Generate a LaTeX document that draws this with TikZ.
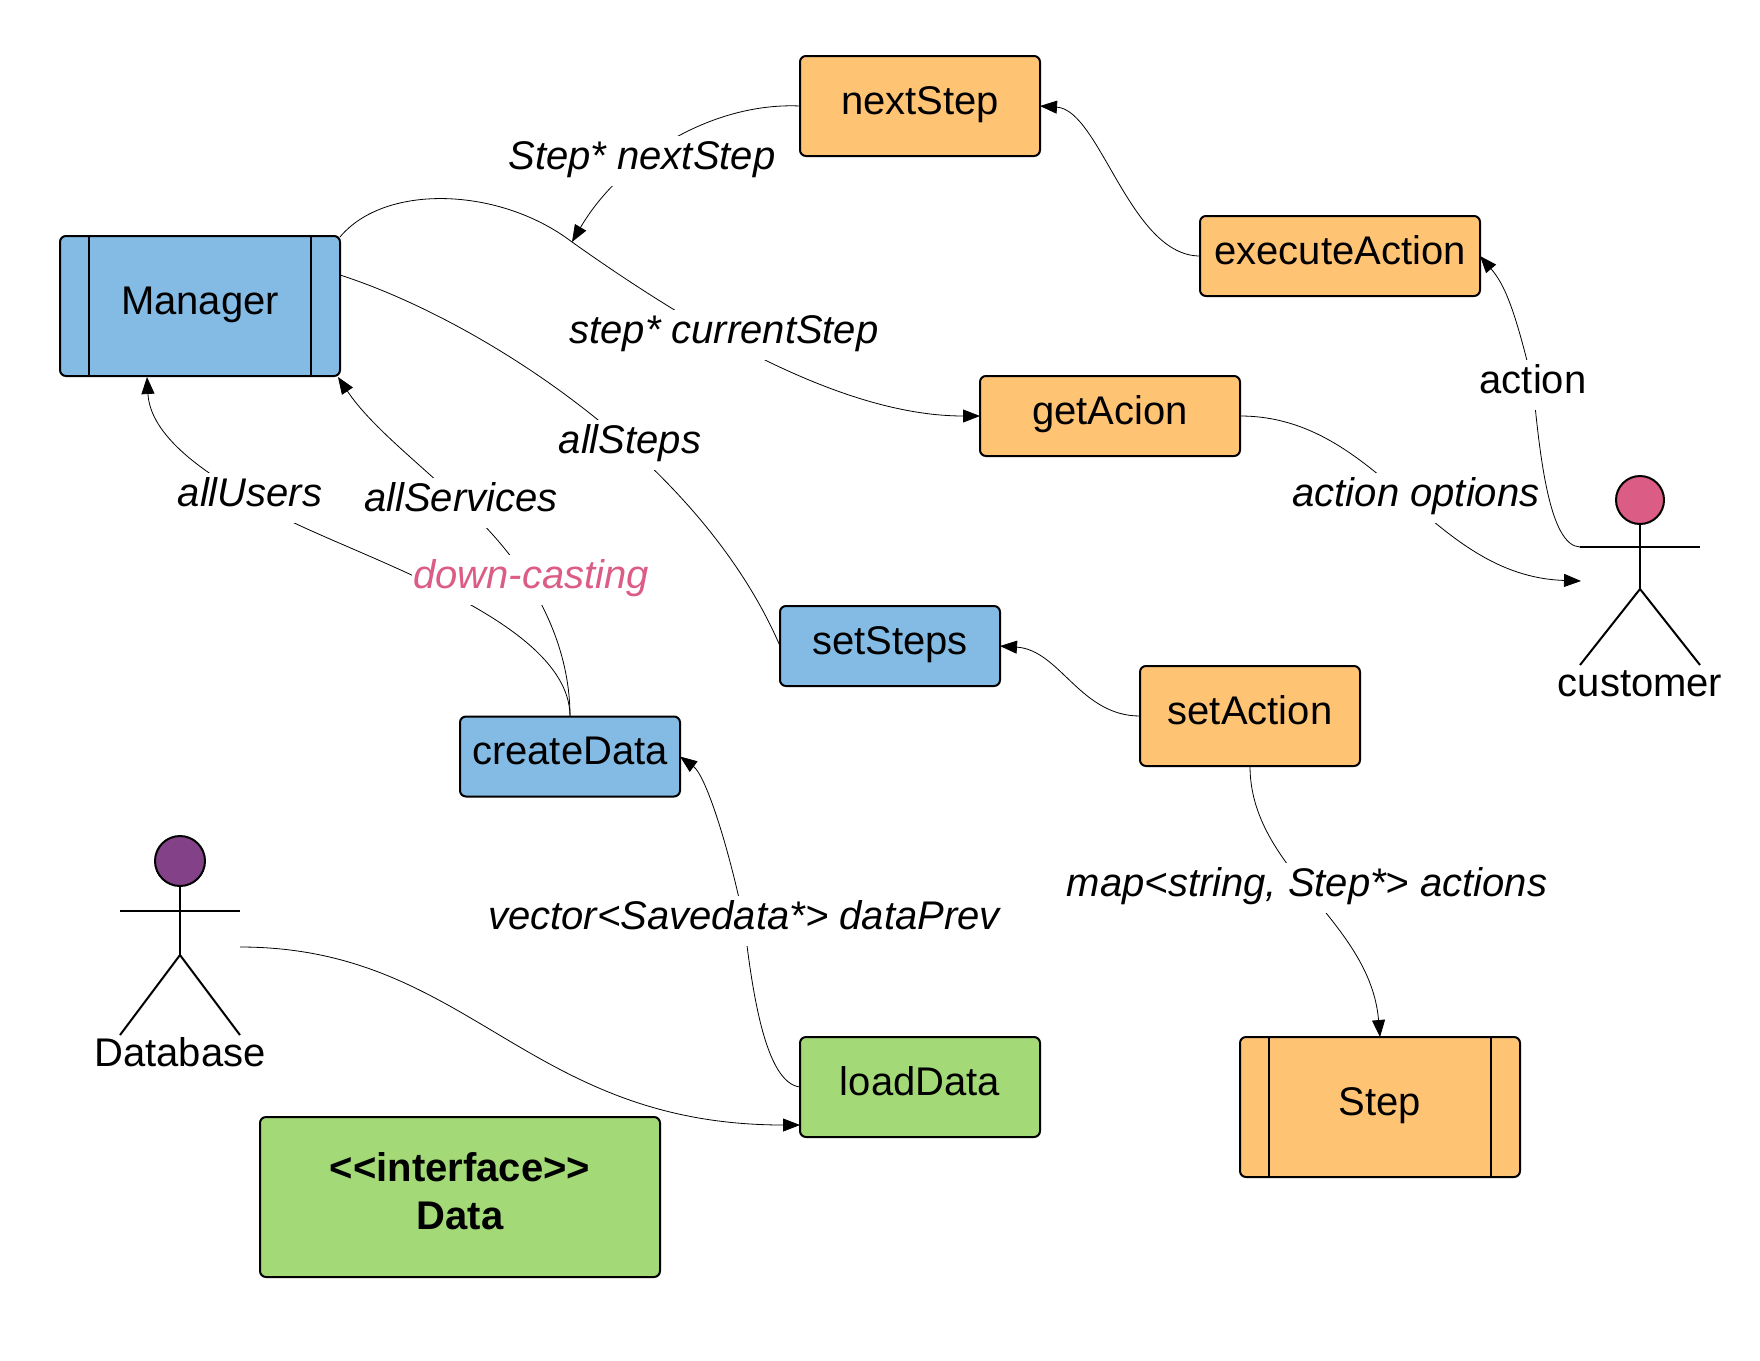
\documentclass[tikz,border=0pt]{standalone}
\usepackage{fontspec}
\setmainfont{Liberation Sans}
\usetikzlibrary{arrows.meta,backgrounds,shapes.geometric}
\definecolor{boxblue}{HTML}{83BBE5}
\definecolor{boxorange}{HTML}{FFC374}
\definecolor{boxgreen}{HTML}{A3D977}
\definecolor{actorpink}{HTML}{DB5D86}
\definecolor{actorpurple}{HTML}{834187}

\tikzset{
  box/.style={draw, rounded corners=3pt, line width=1pt, inner sep=0pt, outer sep=0pt,
    text height=14pt, text depth=6pt, minimum height=#1},
  box/.default=40pt,
  edgelabel/.style={fill=white, inner xsep=0.5pt, inner ysep=0pt,
    text height=16.5pt, text depth=8.5pt, font=\fontsize{20}{24}\selectfont\itshape},
  actorlabel/.style={inner sep=0pt, text height=14pt, text depth=6pt},
  actorhead/.style={draw, circle, line width=1pt, inner sep=0pt}
}

\begin{document}
\begin{tikzpicture}[x=0.5pt,y=-0.5pt,line width=1pt,>={Triangle[length=8.5pt,width=6.5pt]},
    font=\fontsize{20}{24}\selectfont]
   \useasboundingbox (0,0) rectangle (1760,1360);

   \node[box=70pt, fill=boxblue,   minimum width=140pt] (Manager)       at (200,306)  {Manager};
   \node[box=50pt, fill=boxorange, minimum width=120pt] (nextStep)      at (920,106)  {nextStep};
   \node[box,      fill=boxorange, minimum width=140pt] (executeAction) at (1340,256) {executeAction};
   \node[box,      fill=boxorange, minimum width=130pt] (getAcion)      at (1110,416) {getAcion};
   \node[box,      fill=boxblue,   minimum width=110pt] (setSteps)      at (890,646)  {setSteps};
   \node[box=50pt, fill=boxorange, minimum width=110pt] (setAction)     at (1250,716) {setAction};
   \node[box,      fill=boxblue,   minimum width=110pt] (createData)    at (570,756.5)  {createData};
   \node[box=50pt, fill=boxgreen,  minimum width=120pt] (loadData)      at (920,1087) {loadData};
   \node[box=70pt, fill=boxorange, minimum width=140pt] (Step)          at (1380,1107) {Step};
   \node[draw, rounded corners=3pt, outer sep=0pt, fill=boxgreen, minimum width=200pt, minimum height=80pt,
     align=center, text depth=6pt, font=\fontsize{20}{24}\selectfont\bfseries] (Data) at (460,1197)
     {<{}<interface>{}>\\Data};

   \draw[line width=0.9pt] ([xshift=14.5pt]Manager.north west) -- ([xshift=14.5pt]Manager.south west);
   \draw[line width=0.9pt] ([xshift=-14.5pt]Manager.north east) -- ([xshift=-14.5pt]Manager.south east);
   \draw[line width=0.9pt] ([xshift=14.5pt]Step.north west) -- ([xshift=14.5pt]Step.south west);
   \draw[line width=0.9pt] ([xshift=-14.5pt]Step.north east) -- ([xshift=-14.5pt]Step.south east);

   % actors
   \node[actorhead, fill=actorpink, minimum size=24pt] (customerHead) at (1640,500) {};
   \coordinate (customerHip)   at (1640,589);
   \coordinate (customerArmL)  at (1580,547);
   \coordinate (customerArmR)  at (1700,547);
   \coordinate (customerFootL) at (1580,665);
   \coordinate (customerFootR) at (1700,665);
   \coordinate (customerIn)    at (1581,581);
   \node[actorlabel] (customer) at (1640,688) {customer};

   \node[actorhead, fill=actorpurple, minimum size=25pt] (DatabaseHead) at (180,861) {};
   \coordinate (DatabaseHip)   at (180,955);
   \coordinate (DatabaseArmL)  at (120,911);
   \coordinate (DatabaseArmR)  at (240,911);
   \coordinate (DatabaseFootL) at (120,1035);
   \coordinate (DatabaseFootR) at (240,1035);
   \coordinate (DatabaseOut)   at (240,947);
   \node[actorlabel] (Database) at (180,1058) {Database};

   \draw (customerHead) -- (customerHip);
   \draw (customerArmL) -- (customerArmR);
   \draw (customerFootL) -- (customerHip) -- (customerFootR);
   \draw (DatabaseHead) -- (DatabaseHip);
   \draw (DatabaseArmL) -- (DatabaseArmR);
   \draw (DatabaseFootL) -- (DatabaseHip) -- (DatabaseFootR);

   % labels sit on top of the connectors
   \node[edgelabel] (nextStepLabel)    at (642,161)  {Step* nextStep};
   \node[edgelabel] (currentStepLabel) at (724,335)  {step* currentStep};
   \node[edgelabel] (allStepsLabel)    at (630,445)  {allSteps};
   \node[edgelabel] (allUsersLabel)    at (250,498)  {allUsers};
   \node[edgelabel] (allServicesLabel) at (461,503)  {allServices};
   \node[edgelabel, text=actorpink] (castingLabel) at (531,580) {down-casting};
   \node[edgelabel, font=\fontsize{20}{24}\selectfont] (actionLabel) at (1533,385) {action};
   \node[edgelabel] (optionsLabel)     at (1416,498) {action options};
   \node[edgelabel] (prevLabel)        at (744,921)  {vector<Savedata*> dataPrev};
   \node[edgelabel] (actionsLabel)     at (1307,888) {map<string, Step*> actions};

   \coordinate (stepHit)    at (572,242);
   \coordinate (managerOut) at (340,237);
   \coordinate (usersIn)    at (147,377);
   \coordinate (servicesIn) at (338,377);
   \coordinate (loadIn)     at (800,1125);

   \begin{scope}[on background layer, line width=0.9pt]
    \draw[->] (nextStep.west) .. controls (710,102) and (620,160) .. (stepHit);
    \draw[->] (executeAction.west) .. controls (1130,256) and (1100,110) .. (nextStep.east);
    \draw[->] (managerOut) .. controls (385,183) and (500,187) .. (stepHit)
       .. controls (710,340) and (850,416) .. (getAcion.west);
    \draw (Manager.east |- 0,275) .. controls (480,320) and (700,460) .. (setSteps.west);
    \draw[->] (createData.north) .. controls (570,610) and (310,545) .. (allUsersLabel.center)
       .. controls (190,465) and (150,430) .. (usersIn);
    \draw[->] (createData.north) .. controls (570,640) and (530,565) .. (allServicesLabel.center)
       .. controls (415,460) and (370,425) .. (servicesIn);
    \draw[->] (loadData.west) .. controls (765,1083) and (752,990) .. (prevLabel.center)
       .. controls (727,840) and (705,775) .. (createData.east);
    \draw[->] (DatabaseOut) .. controls (470,947) and (525,1125) .. (loadIn);
    \draw[->] (customerArmL) .. controls (1550,546) and (1540,460) .. (actionLabel.center)
       .. controls (1515,310) and (1505,285) .. (executeAction.east);
    \draw[->] (getAcion.east) .. controls (1380,416) and (1430,576) .. (customerIn);
    \draw[->] (setAction.west) .. controls (1080,716) and (1060,650) .. (setSteps.east);
    \draw[->] (setAction.south) .. controls (1250,870) and (1370,920) .. (Step.north);
   \end{scope}
\end{tikzpicture}
\end{document}
